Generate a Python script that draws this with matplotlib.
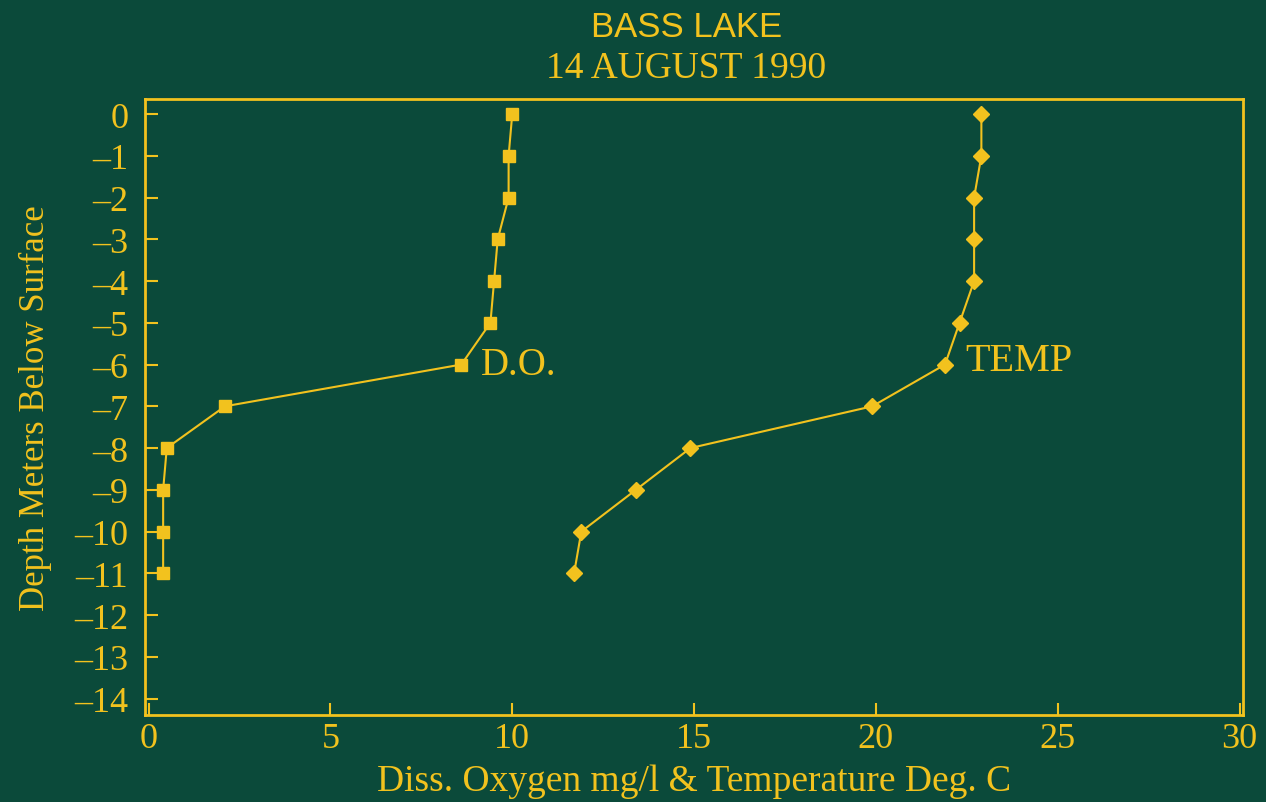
#!/usr/bin/env python3

import matplotlib
matplotlib.use("Agg")
import matplotlib.pyplot as plt

# Depth profile, Bass Lake, 14 August 1990
depth = [0, -1, -2, -3, -4, -5, -6, -7, -8, -9, -10, -11]
diss_oxygen = [10.0, 9.9, 9.9, 9.6, 9.5, 9.4, 8.6, 2.1, 0.5, 0.4, 0.4, 0.4]
temperature = [22.9, 22.9, 22.7, 22.7, 22.7, 22.3, 21.9, 19.9, 14.9, 13.4, 11.9, 11.7]

x_ticks = [0, 5, 10, 15, 20, 25, 30]
y_ticks = list(range(0, -15, -1))

bg = '#0b4a3a'
yel = '#f2c21e'
serif = ['Liberation Serif', 'DejaVu Serif']

fig = plt.figure(figsize=(12.66, 8.03), dpi=100, facecolor=bg)
ax = fig.add_axes([0.1145, 0.108, 0.8675, 0.7675], facecolor=bg)

ax.plot(diss_oxygen, depth, '-', color=yel, linewidth=1.5,
        marker='s', markersize=9, markerfacecolor=yel, markeredgecolor=yel)
ax.plot(temperature, depth, '-', color=yel, linewidth=1.5,
        marker='D', markersize=8, markerfacecolor=yel, markeredgecolor=yel)

# series labels
ax.text(9.15, -6.0, 'D.O.', color=yel, fontsize=28, family=serif, va='center', ha='left')
ax.text(22.45, -5.9, 'TEMP', color=yel, fontsize=29, family=serif, va='center', ha='left')

ax.set_xlim(-0.1, 30.1)
ax.set_ylim(-14.4, 0.36)
ax.set_xticks(x_ticks)
ax.set_xticklabels([str(t) for t in x_ticks], family=serif, fontsize=26, color=yel)
ax.set_yticks(y_ticks)
ax.set_yticklabels(['0' if t == 0 else '\u2013' + str(-t) for t in y_ticks],
                   family=serif, fontsize=26, color=yel)
ax.tick_params(axis='both', direction='in', length=9, width=1.5, color=yel)
ax.tick_params(axis='y', pad=12)
ax.tick_params(axis='x', pad=5)

for sp in ax.spines.values():
    sp.set_color(yel)
    sp.set_linewidth(2)

ax.set_xlabel('Diss. Oxygen mg/l & Temperature Deg. C', family=serif,
              fontsize=27, color=yel, labelpad=6)
ax.set_ylabel('Depth Meters Below Surface', family=serif,
              fontsize=25, color=yel, labelpad=16)

fig.text(0.542, 0.966, 'BASS LAKE', color=yel, fontsize=25,
         family=['Liberation Sans', 'DejaVu Sans'], ha='center', va='center')
fig.text(0.542, 0.915, '14 AUGUST 1990', color=yel, fontsize=27,
         family=serif, ha='center', va='center')

fig.savefig('out.png', dpi=100, facecolor=bg)
